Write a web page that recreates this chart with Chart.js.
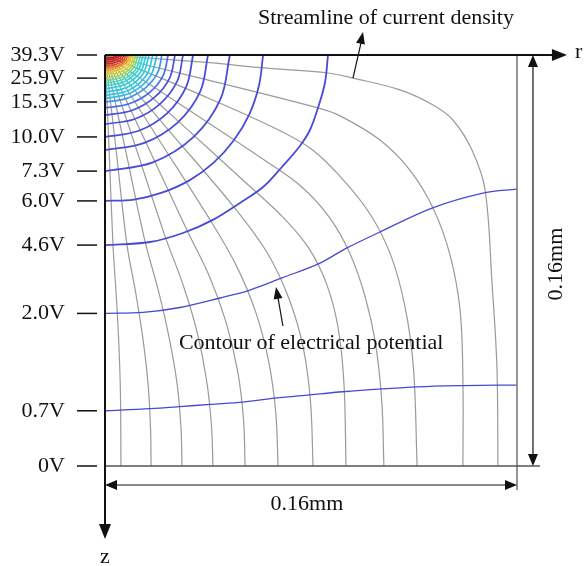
<!DOCTYPE html>
<html>
<head>
<meta charset="utf-8">
<script src="https://cdn.jsdelivr.net/npm/chart.js@4.4.0/dist/chart.umd.min.js"></script>
<style>
html, body { margin: 0; padding: 0; background: #fff; }
canvas { display: block; }
</style>
</head>
<body>
<canvas id="field" width="585" height="566"></canvas>
<script>
// r and z in micrometres (160 = 0.16 mm), z grows downward from the electrode surface
const tickDepths = [0, 9.0, 18.3, 31.9, 45.2, 56.8, 74.0, 100.6, 138.5, 160];
const tickLabels = ['39.3V', '25.9V', '15.3V', '10.0V', '7.3V', '6.0V', '4.6V', '2.0V', '0.7V', '0V'];

// equipotential lines, outer to inner; each path is [r, z] pairs
const contourVolts = [0.7, 2.0, 4.6, 6.0, 7.3, 8.6, 10.0, 11.3, 12.6, 14.0, 15.3,
  16.6, 17.9, 19.3, 20.6, 21.9, 23.2, 24.6, 25.9, 27.2, 28.5, 29.9, 31.2, 32.5, 33.8, 35.2, 36.5, 37.8];
const contourPoints = [
  [[0,138.5],[17.5,137.7],[29.1,136.9],[40.8,136.0],[53.6,135.1],[66.0,133.6],[79.6,132.3],[92.4,131.1],[107.6,130.0],[121.2,129.2],[139.0,128.7],[152.6,128.5],[160,128.5]],
  [[0,100.6],[14.8,100.2],[29.1,98.3],[44.7,94.6],[56.3,91.5],[68.7,86.8],[83.5,81.0],[93.6,75.3],[106.4,69.1],[127.0,59.6],[147.2,53.7],[160,52.2]],
  [[0,74.0],[17.5,72.8],[30.3,69.3],[41.9,64.2],[52.4,57.6],[61.4,51.4],[68.7,43.6],[75.7,35.4],[79.6,29.2],[82.7,20.6],[85.4,10.9],[86.6,0]],
  [[0,56.8],[11.2,56.3],[22.1,53.6],[32.6,48.9],[42.0,42.1],[49.9,33.4],[56.0,23.2],[59.8,11.9],[61.4,0]],
  [[0,45.2],[18.6,41.8],[34.3,32.0],[44.8,17.3],[48.5,0]],
  [[0,37.0],[15.3,34.2],[28.3,26.2],[37.0,14.2],[40.0,0]],
  [[0,31.9],[13.1,29.5],[24.2,22.6],[31.6,12.2],[34.2,0]],
  [[0,26.9],[11.6,24.9],[21.4,19.0],[28.0,10.3],[30.3,0]],
  [[0,23.4],[10.4,21.6],[19.2,16.5],[25.1,9.0],[27.2,0]],
  [[0,20.6],[9.4,19.0],[17.3,14.6],[22.6,7.9],[24.5,0]],
  [[0,18.3],[8.5,16.9],[15.6,12.9],[20.4,7.0],[22.1,0]],
  [[0,17.0],[10.1,14.7],[17.5,8.5],[20.2,0]],
  [[0,15.8],[9.3,13.7],[16.1,7.9],[18.6,0]],
  [[0,14.5],[8.6,12.6],[14.8,7.3],[17.1,0]],
  [[0,13.2],[8.0,11.4],[13.8,6.6],[15.9,0]],
  [[0,12.0],[7.4,10.4],[12.8,6.0],[14.8,0]],
  [[0,11.0],[6.9,9.5],[12.0,5.5],[13.8,0]],
  [[0,10.0],[6.4,8.7],[11.1,5.0],[12.8,0]],
  [[0,9.0],[6.0,7.8],[10.4,4.5],[12.0,0]],
  [[0,7.8],[5.7,6.8],[9.8,3.9],[11.3,0]],
  [[0,6.8],[5.3,5.9],[9.1,3.4],[10.5,0]],
  [[0,5.8],[4.9,5.0],[8.4,2.9],[9.7,0]],
  [[0,5.1],[4.5,4.4],[7.7,2.6],[8.9,0]],
  [[0,4.3],[4.1,3.7],[7.1,2.2],[8.2,0]],
  [[0,3.5],[3.7,3.0],[6.4,1.8],[7.4,0]],
  [[0,2.7],[3.3,2.3],[5.7,1.4],[6.6,0]],
  [[0,1.9],[2.9,1.6],[5.0,1.0],[5.8,0]],
  [[0,1.2],[2.5,1.0],[4.3,0.6],[5.0,0]]
];

// current density streamlines, from the surface electrode down to the bottom
const streamlinePoints = [
  [[0,0],[36.9,2.7],[62.9,5.1],[86.6,7.0],[96.3,9.0],[114.6,13.6],[127.4,19.5],[135.1,25.3],[142.5,37.0],[147.6,52.5],[150.3,88.8],[152.2,121.4],[152.6,160]],
  [[0,0],[36.9,9.0],[82.7,20.6],[91.3,23.7],[106.8,33.1],[118.4,44.8],[127.4,59.6],[134.0,77.9],[137.9,99.3],[139.0,126.5],[139.0,160]],
  [[0,0],[38.8,16.2],[66.0,28.5],[80.0,36.5],[92.0,48.0],[103.0,62.0],[111.0,78.0],[116.5,98.0],[119.8,122.0],[121.2,160]],
  [[0,0],[34.0,22.4],[62.0,41.0],[76.0,51.0],[87.0,63.0],[95.0,77.0],[101.0,94.0],[105.0,112.0],[107.5,135.0],[108.3,160]],
  [[0,0],[29.5,26.7],[55.0,50.0],[69.0,63.0],[79.0,75.0],[86.0,89.0],[90.5,106.0],[92.8,128.0],[93.6,160]],
  [[0,0],[25.0,29.6],[50.1,59.2],[63.0,77.0],[71.5,95.0],[77.0,114.0],[79.8,135.0],[80.8,160]],
  [[0,0],[20.4,32.1],[40.8,64.2],[51.0,82.0],[58.5,100.0],[63.5,119.0],[66.3,139.0],[67.2,160]],
  [[0,0],[15.9,34.1],[31.8,68.1],[40.5,86.0],[47.0,104.0],[51.5,123.0],[53.8,142.0],[54.4,160]],
  [[0,0],[11.7,35.2],[23.3,70.5],[30.5,90.0],[35.8,108.0],[39.5,127.0],[41.4,145.0],[41.9,160]],
  [[0,0],[7.8,36.2],[15.5,72.4],[20.8,92.0],[24.9,110.0],[28.0,128.0],[29.5,145.0],[29.9,160]],
  [[0,0],[4.3,36.8],[8.5,73.6],[12.0,93.0],[14.8,111.0],[16.8,129.0],[17.7,146.0],[17.9,160]],
  [[0,0],[1.6,37.0],[3.1,74.0],[4.4,94.0],[5.4,113.0],[6.0,132.0],[6.2,160]]
];

const V_MIN = 0.7, V_MAX = 39.3;
// jet-like ramp used for the potential lines
const colourStops = [
  [0.00, [72, 72, 210]],
  [0.31, [72, 80, 222]],
  [0.35, [70, 120, 232]],
  [0.39, [60, 160, 235]],
  [0.42, [45, 195, 232]],
  [0.56, [50, 215, 215]],
  [0.60, [90, 215, 170]],
  [0.64, [140, 215, 110]],
  [0.67, [190, 215, 70]],
  [0.71, [235, 205, 45]],
  [0.76, [240, 160, 40]],
  [0.81, [225, 90, 40]],
  [0.86, [205, 45, 35]],
  [1.00, [180, 25, 25]]
];

function potentialColour(v) {
  const t = (v - V_MIN) / (V_MAX - V_MIN);
  for (let i = 1; i < colourStops.length; i++) {
    if (t <= colourStops[i][0]) {
      const [t0, c0] = colourStops[i - 1], [t1, c1] = colourStops[i];
      const f = (t - t0) / (t1 - t0);
      return 'rgb(' + c0.map((c, k) => Math.round(c + (c1[k] - c) * f)).join(',') + ')';
    }
  }
  return 'rgb(180,25,25)';
}

const toXY = pts => pts.map(p => ({ x: p[0], y: p[1] }));

const datasets = [];
contourPoints.forEach((pts, i) => {
  const v = contourVolts[i];
  datasets.push({
    data: toXY(pts),
    borderColor: potentialColour(v),
    borderWidth: v < 3 ? 1.3 : (v < 11 ? 1.8 : 1.7),
    order: 0
  });
});
streamlinePoints.forEach(pts => {
  datasets.push({
    data: toXY(pts),
    borderColor: 'rgba(120,120,120,0.75)',
    borderWidth: 1.2,
    order: 1
  });
});

function arrowHead(ctx, x1, y1, x2, y2, len, half) {
  const a = Math.atan2(y2 - y1, x2 - x1);
  ctx.beginPath();
  ctx.moveTo(x2, y2);
  ctx.lineTo(x2 - len * Math.cos(a) + half * Math.sin(a), y2 - len * Math.sin(a) - half * Math.cos(a));
  ctx.lineTo(x2 - len * Math.cos(a) - half * Math.sin(a), y2 - len * Math.sin(a) + half * Math.cos(a));
  ctx.closePath();
  ctx.fill();
}

function segment(ctx, x1, y1, x2, y2) {
  ctx.beginPath();
  ctx.moveTo(x1, y1);
  ctx.lineTo(x2, y2);
  ctx.stroke();
}

// axes, boundaries, dimension arrows and callouts
const sketchFrame = {
  id: 'sketchFrame',
  afterDatasetsDraw(chart) {
    const { ctx, chartArea, scales: { x, y } } = chart;
    const px = v => x.getPixelForValue(v), py = v => y.getPixelForValue(v);
    ctx.save();
    ctx.lineCap = 'butt';

    // right and bottom walls, extended as dimension guides
    ctx.strokeStyle = '#7a7a7a';
    ctx.lineWidth = 1.6;
    segment(ctx, px(160), py(0), px(160), py(169.3));
    ctx.strokeStyle = '#555';
    segment(ctx, px(0), py(160), px(168.9), py(160));

    // r and z axes
    ctx.strokeStyle = '#111';
    ctx.fillStyle = '#111';
    ctx.lineWidth = 2;
    segment(ctx, px(0), py(0), px(175), py(0));
    arrowHead(ctx, px(0), py(0), px(179.4), py(0), 15, 6);
    segment(ctx, px(0), py(0), px(0), py(184));
    arrowHead(ctx, px(0), py(0), px(0), py(188.4), 15, 6);

    // potential tick dashes
    ctx.lineWidth = 1.5;
    y.ticks.forEach(t => {
      const yy = py(t.value);
      segment(ctx, chartArea.left - 28, yy, chartArea.left - 8, yy);
    });

    // 0.16 mm dimension arrows
    ctx.lineWidth = 1.2;
    segment(ctx, px(3), py(167.4), px(157), py(167.4));
    arrowHead(ctx, px(80), py(167.4), px(0), py(167.4), 12, 5);
    arrowHead(ctx, px(80), py(167.4), px(160), py(167.4), 12, 5);
    segment(ctx, px(166.2), py(3), px(166.2), py(157));
    arrowHead(ctx, px(166.2), py(80), px(166.2), py(0), 12, 5);
    arrowHead(ctx, px(166.2), py(80), px(166.2), py(160), 12, 5);

    // callout arrows
    segment(ctx, px(96.3), py(9.0), px(99.6), py(-5.5));
    arrowHead(ctx, px(96.3), py(9.0), px(100.2), py(-9.0), 12, 4.5);
    segment(ctx, px(69.1), py(105.5), px(67.0), py(93.5));
    arrowHead(ctx, px(69.1), py(105.5), px(66.4), py(90.3), 12, 4.5);

    // text
    ctx.font = '22px "Liberation Serif"';
    ctx.textBaseline = 'middle';
    ctx.textAlign = 'left';
    ctx.fillText('Streamline of current density', px(59.4), py(-14.4));
    ctx.fillText('Contour of electrical potential', px(28.7), py(112.1));
    ctx.fillText('r', px(182.5), py(-1.2));
    ctx.textAlign = 'center';
    ctx.fillText('0.16mm', px(78.4), py(174.8));
    ctx.fillText('z', px(0), py(195.5));
    ctx.save();
    ctx.translate(px(175.1), py(81.4));
    ctx.rotate(-Math.PI / 2);
    ctx.fillText('0.16mm', 0, 0);
    ctx.restore();

    ctx.restore();
  }
};

new Chart(document.getElementById('field'), {
  type: 'line',
  data: { datasets: datasets },
  options: {
    responsive: false,
    animation: false,
    devicePixelRatio: 1,
    layout: { padding: { top: 55, right: 68, bottom: 100, left: 0 } },
    plugins: { legend: { display: false }, tooltip: { enabled: false } },
    elements: {
      point: { radius: 0 },
      line: { tension: 0.35, fill: false, capBezierPoints: false }
    },
    scales: {
      x: { type: 'linear', display: false, min: 0, max: 160 },
      y: {
        type: 'linear',
        position: 'left',
        reverse: true,
        min: 0,
        max: 160,
        afterBuildTicks: s => { s.ticks = tickDepths.map(v => ({ value: v })); },
        afterFit: s => { s.width = 105; },
        grid: { display: false, drawTicks: false },
        border: { display: false },
        ticks: {
          autoSkip: false,
          maxRotation: 0,
          padding: 40,
          color: '#111',
          font: { family: 'Liberation Serif', size: 22 },
          callback: (v, i) => tickLabels[i]
        }
      }
    }
  },
  plugins: [sketchFrame]
});
</script>
</body>
</html>
